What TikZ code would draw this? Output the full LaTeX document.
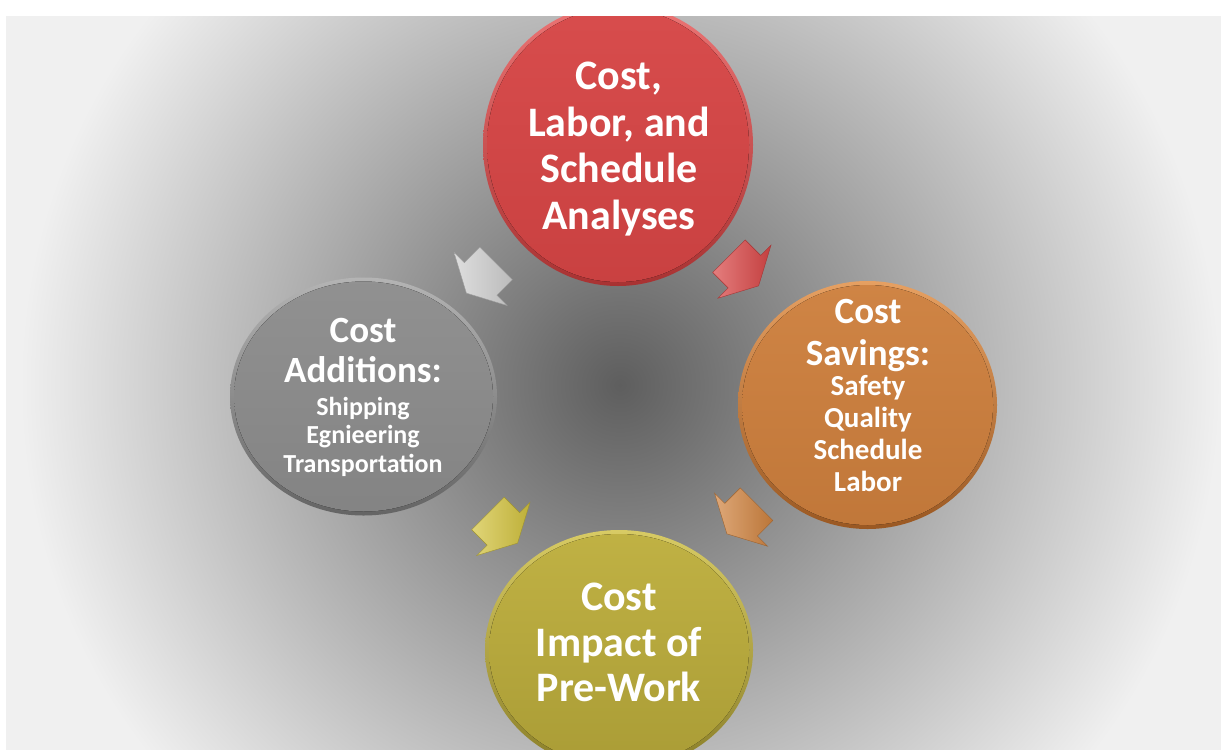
\documentclass[tikz,border=0pt]{standalone}
\usepackage{fontspec}
\setmainfont{Carlito}
\usetikzlibrary{shapes.geometric,calc}

% backdrop
\definecolor{bgcenter}{HTML}{5E5E5E}
\definecolor{bgedge}{HTML}{F0F0F0}
% linear fall-off from the centre, flat beyond a quarter of the shading's half-size
\pgfdeclareradialshading{backdrop}{\pgfpointorigin}{%
  color(0bp)=(bgcenter); color(12.5bp)=(bgedge); color(50bp)=(bgedge)}
% discs: face colour, bevel highlight, bevel shade
\definecolor{redface}{HTML}{D64545}
\definecolor{redlight}{HTML}{EC7474}
\definecolor{reddark}{HTML}{A83232}
\definecolor{orangeface}{HTML}{CD7F3D}
\definecolor{orangelight}{HTML}{E6A062}
\definecolor{orangedark}{HTML}{9A5822}
\definecolor{grayface}{HTML}{8C8C8C}
\definecolor{graylight}{HTML}{B4B4B4}
\definecolor{graydark}{HTML}{646464}
\definecolor{yellowface}{HTML}{BDAE3C}
\definecolor{yellowlight}{HTML}{D8CB64}
\definecolor{yellowdark}{HTML}{8A7E28}
% arrows
\definecolor{arrowred}{HTML}{D94646}
\definecolor{arrowwhite}{HTML}{D0D0D0}
\definecolor{arroworange}{HTML}{D0833F}
\definecolor{arrowyellow}{HTML}{D3C33E}

\begin{document}
\begin{tikzpicture}[x=1pt,y=-1pt,
  disc/.style={ellipse, inner sep=0pt, outer sep=0pt},
  caption/.style={text=white, align=center, inner sep=0pt},
  cyclearrow/.pic={
    \path[left color=#1!70!white, right color=#1!90!black, draw=#1!75!black,
          line width=0.4pt, line join=miter]
      (-21,-23) -- (1,-23) -- (1,-37.5) -- (21,0) -- (1,37.5) -- (1,23) -- (-21,23) -- cycle;
  }
]
\useasboundingbox (0,0) rectangle (1221,753);
\fill[white] (0,0) rectangle (1221,753);

\begin{scope}
  \clip (6,16) rectangle (1221,749);
  % radial grey backdrop, centred at (620,385), reaching the edge tone at 600
  \shade[shading=backdrop] (-580,-815) rectangle (1820,1585);

  % the four discs: bevelled rim, then the face
  \node[disc, minimum width=270pt, minimum height=282pt,
        top color=redlight, bottom color=reddark] (analysis) at (618,145) {};
  \fill[top color=redface!96!white, bottom color=redface!94!black]
        (analysis.center) ellipse [x radius=131, y radius=137];
  \node[disc, minimum width=259pt, minimum height=248pt,
        top color=orangelight, bottom color=orangedark] (savings) at (867.5,405) {};
  \fill[top color=orangeface!96!white, bottom color=orangeface!94!black]
        (savings.center) ellipse [x radius=125.5, y radius=120];
  \node[disc, minimum width=267pt, minimum height=238pt,
        top color=graylight, bottom color=graydark] (additions) at (363.5,396.5) {};
  \fill[top color=grayface!96!white, bottom color=grayface!94!black]
        (additions.center) ellipse [x radius=129.5, y radius=115];
  \node[disc, minimum width=268pt, minimum height=240pt,
        top color=yellowlight, bottom color=yellowdark] (impact) at (619,650) {};
  \fill[top color=yellowface!96!white, bottom color=yellowface!90!black]
        (impact.center) ellipse [x radius=130, y radius=116];
\end{scope}

% captions
\node[caption, font=\bfseries\fontsize{42}{46.5}\selectfont] (analysisText)
  at (619,149) {Cost,\\Labor, and\\Schedule\\Analyses};
\node[caption, font=\bfseries\fontsize{37}{42}\selectfont] (savingsHead)
  at (868,335) {Cost\\Savings:};
\node[caption, font=\bfseries\fontsize{29}{32}\selectfont] (savingsList)
  at (868,434) {Safety\\Quality\\Schedule\\Labor};
\node[caption, font=\bfseries\fontsize{37}{40}\selectfont] (additionsHead)
  at (363,350) {Cost\\Additions:};
\node[caption, font=\bfseries\fontsize{26}{28.5}\selectfont] (additionsList)
  at (363,436.5) {Shipping\\Egnieering\\Transportation};
\node[caption, font=\bfseries\fontsize{42}{45.5}\selectfont] (impactText)
  at (619,642.5) {Cost\\Impact of\\Pre-Work};

% block arrows between the discs
\pic[rotate=-45]  at ($(analysis)!0.5!(savings)+(1,-4)$)       {cyclearrow=arrowred};
\pic[rotate=-135] at ($(analysis)!0.5!(additions)+(-9.5,7.5)$) {cyclearrow=arrowwhite};
\pic[rotate=-135] at ($(savings)!0.5!(impact)+(-1.5,-8.5)$)    {cyclearrow=arroworange};
\pic[rotate=-45]  at ($(additions)!0.5!(impact)+(11.5,5)$)     {cyclearrow=arrowyellow};
\end{tikzpicture}
\end{document}
